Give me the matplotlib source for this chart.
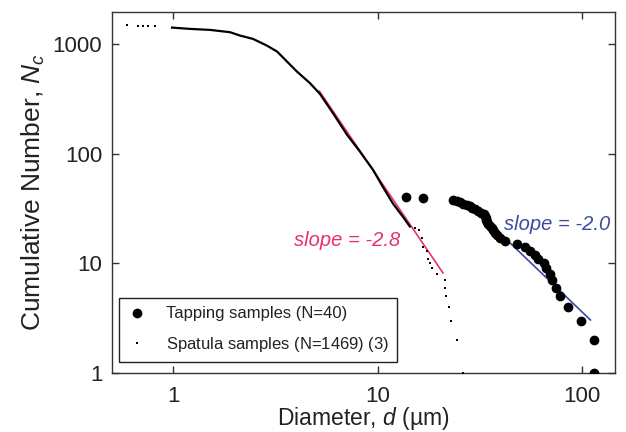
import matplotlib; matplotlib.use("Agg"); import matplotlib.pyplot as plt
import numpy as np

plt.rcParams['font.family'] = ['Liberation Sans', 'DejaVu Sans']
plt.rcParams['mathtext.fontset'] = 'custom'
plt.rcParams['mathtext.rm'] = 'Liberation Sans'
plt.rcParams['mathtext.it'] = 'Liberation Sans:italic'

# spatula samples (N=1469): dense part of the cumulative curve
spat_line_d = [0.989, 1.21, 1.52, 1.90, 2.13, 2.46, 2.88, 3.23, 3.61, 4.04, 4.68, 5.24,
               6.06, 7.10, 8.21, 9.51, 10.6, 11.9, 13.3, 14.4]
spat_line_n = [1406, 1368, 1339, 1276, 1188, 1109, 963, 849, 689, 558, 437, 348,
               233, 148, 104, 71, 50, 35, 26.6, 21.6]
# spatula samples: sparse points (largest and smallest grains)
spat_dot_d = [0.596, 0.675, 0.717, 0.755, 0.817,
              15.2, 16.0, 16.5, 16.7, 17.5, 17.6, 18.1, 18.5, 19.5, 21.4, 21.4, 21.7,
              22.4, 22.9, 24.5, 26.2]
spat_dot_n = [1469, 1468, 1467, 1466, 1465,
              21, 20, 17, 14, 13, 11, 10, 9, 8, 7, 6, 5, 4, 3, 2, 1]

# tapping samples (N=40)
tap_d = [13.8, 16.7, 23.4, 24.5, 25.3, 26.2, 27.4, 28.3, 29.0, 30.0, 31.0, 32.1, 33.2, 33.6,
         34.0, 34.0, 34.4, 34.8, 35.6, 36.4, 36.8, 37.6, 38.5, 39.8, 42.1, 48.2, 52.7, 55.7,
         58.9, 61.0, 65.3, 66.8, 69.8, 71.4, 74.8, 78.2, 85.2, 98.5, 114, 115]
tap_n = list(range(40, 0, -1))

# power-law fits
fit_red_d = [5.2, 20.9]
fit_red_n = [370, 8.16]
fit_blue_d = [33.6, 110]
fit_blue_n = [25.3, 3.04]

RED = '#e8306c'; BLUE = '#3c4aa0'; TXT = '#222222'

fig = plt.figure(figsize=(6.26, 4.32), dpi=100)
ax = fig.add_axes([112/626, 1-373/432, (615-112)/626, (373-12)/432])

ax.plot(fit_red_d, fit_red_n, '-', color=RED, lw=1.2, zorder=2)
ax.plot(fit_blue_d, fit_blue_n, '-', color=BLUE, lw=1.2, zorder=2)
ax.plot(spat_line_d, spat_line_n, '-', color='black', lw=1.6, zorder=3)
ax.plot(tap_d, tap_n, 'o', color='black', ms=6, zorder=4, label='Tapping samples (N=40)')
ax.plot(spat_dot_d, spat_dot_n, 's', color='black', ms=1.5, mew=0, zorder=3,
        label='Spatula samples (N=1469) $(3)$')

ax.text(137, 22.4, 'slope = -2.0', color=BLUE, style='italic', fontsize=14.5,
        ha='right', va='center')
ax.text(12.9, 16, 'slope = -2.8', color=RED, style='italic', fontsize=14.5,
        ha='right', va='center')

ax.set_xscale('log'); ax.set_yscale('log')
ax.set_xlim(0.503, 145); ax.set_ylim(1, 1950)
ax.set_xticks([1, 10, 100]); ax.set_xticklabels(['1', '10', '100'])
ax.set_yticks([1, 10, 100, 1000]); ax.set_yticklabels(['1', '10', '100', '1000'])
ax.minorticks_off()
ax.tick_params(direction='in', length=5, width=1, top=True, right=True,
               labelsize=16, colors='#333333', labelcolor=TXT)
ax.tick_params(axis='x', pad=9)
ax.tick_params(axis='y', pad=7)
for s in ax.spines.values():
    s.set_color('#333333'); s.set_linewidth(1)

ax.set_xlabel('Diameter, $d$ (µm)', fontsize=16.5, color=TXT, labelpad=-1)
ax.set_ylabel('Cumulative Number, $N_c$', fontsize=19, color=TXT, labelpad=4)

leg = ax.legend(loc='lower left', bbox_to_anchor=(7/503, 11/361), borderaxespad=0,
                fontsize=12, frameon=True, fancybox=False, edgecolor='#222222',
                framealpha=1, labelspacing=0.8, handlelength=1.2, handletextpad=1.1,
                borderpad=0.5, markerscale=1)
leg.get_frame().set_linewidth(1)
leg.legend_handles[1].set_markersize(2)
for t in leg.get_texts(): t.set_color(TXT)

fig.savefig('out.png', dpi=100, facecolor='white')
